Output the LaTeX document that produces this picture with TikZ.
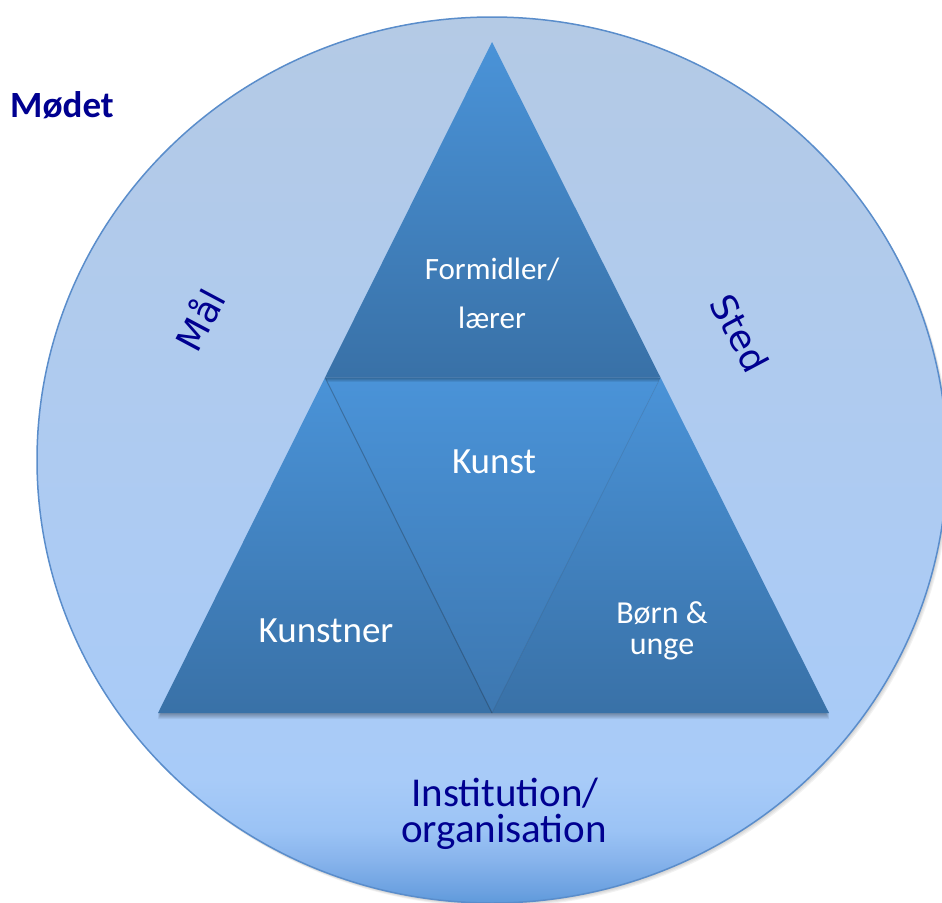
\documentclass[tikz,border=0pt]{standalone}
\usepackage{fontspec}
\newfontfamily\calfont{Carlito}
\newfontfamily\verfont{DejaVu Sans}
\usetikzlibrary{shadows}
\definecolor{ellline}{HTML}{5A8DCB}
\definecolor{ellA}{HTML}{5F9ADB}
\definecolor{ellB}{HTML}{6DA2E1}
\definecolor{ellC}{HTML}{88B4EC}
\definecolor{ellD}{HTML}{9BC3F5}
\definecolor{ellE}{HTML}{A8CBF8}
\definecolor{ellF}{HTML}{AECBF1}
\definecolor{ellG}{HTML}{B4CAE5}
\definecolor{tritop}{HTML}{4A93D8}
\definecolor{tribot}{HTML}{3971A7}
\definecolor{midbot}{HTML}{3D77B0}
\definecolor{navytext}{HTML}{000090}
\pgfdeclareverticalshading{ellshade}{100bp}{color(0bp)=(ellA); color(25bp)=(ellA); color(25.75bp)=(ellB); color(27.45bp)=(ellC); color(29.1bp)=(ellD); color(32bp)=(ellE); color(50bp)=(ellF); color(75bp)=(ellG); color(100bp)=(ellG)}
\tikzset{
  piece/.style={top color=tritop, bottom color=tribot, draw=none},
  softshadow/.style={fill=black, opacity=0.06, draw=none},
  whitetxt/.style={text=white, inner sep=0pt, anchor=base},
  bluetxt/.style={text=navytext, inner sep=0pt},
}
\begin{document}
\begin{tikzpicture}[x=1pt,y=-1pt]
\useasboundingbox (0,0) rectangle (942,902);
% outer ellipse with soft shadow
\foreach \s in {1,2,3,4}{
  \path[fill=black, opacity=0.05] ([shift={(\s*0.8,\s)}]492,460) ellipse [x radius=455, y radius=443];
}
\path[shading=ellshade, draw=ellline, line width=1.5pt]
  (492,460) ellipse [x radius=455, y radius=443];
% triangle corners
\coordinate (apex) at (492,42);
\coordinate (bl) at (158,713);
\coordinate (br) at (829,713);
\coordinate (ml) at (325,377.5);
\coordinate (mr) at (660.5,377.5);
\coordinate (mb) at (492,713);
% soft shadow of the whole triangle
\foreach \s in {1,2,3,4,5,6}{
  \path[softshadow] ([yshift=-\s pt]bl) -- ([yshift=-\s pt]br) -- ([yshift=-\s pt]apex) -- cycle;
}
% pieces
\path[piece, top color=tritop, bottom color=midbot] (ml) -- (mr) -- (mb) -- cycle;
\foreach \s in {1,2,3,4}{
  \path[softshadow, opacity=0.07] ([yshift=-\s pt]ml) -- ([yshift=-\s pt]mr) -- (mr) -- (ml) -- cycle;
}
\path[piece] (apex) -- (mr) -- (ml) -- cycle;
\path[piece] (ml) -- (mb) -- (bl) -- cycle;
\path[piece] (mr) -- (br) -- (mb) -- cycle;
\draw[black, opacity=0.22, line width=1pt] (ml) -- (mb);
\draw[black, opacity=0.08, line width=0.8pt] (mr) -- (mb);
% texts
\node[whitetxt, font=\calfont\fontsize{31}{32}\selectfont] (formidler) at (492,279) {Formidler/};
\node[whitetxt, font=\calfont\fontsize{31}{32}\selectfont] (laerer) at (492,328) {lærer};
\node[whitetxt, font=\calfont\fontsize{37}{40}\selectfont] (kunst) at (494,473) {Kunst};
\node[whitetxt, font=\calfont\fontsize{37}{40}\selectfont] (kunstner) at (326,642) {Kunstner};
\node[whitetxt, font=\calfont\fontsize{32}{34}\selectfont] (born) at (662,623) {Børn \&};
\node[whitetxt, font=\calfont\fontsize{32}{34}\selectfont] (unge) at (662,654) {unge};
\node[bluetxt, anchor=base, font=\calfont\fontsize{41}{42}\selectfont] (inst) at (505,806) {Institution/};
\node[bluetxt, anchor=base, font=\calfont\fontsize{41}{42}\selectfont] (org) at (504,842) {organisation};
\node[bluetxt, anchor=base west, font=\calfont\bfseries\fontsize{37}{38}\selectfont] (modet) at (10,117) {Mødet};
\node[bluetxt, rotate=62, font=\verfont\fontsize{36}{38}\selectfont] (maal) at (199,319) {Mål};
\node[bluetxt, rotate=-62, font=\verfont\fontsize{36}{38}\selectfont] (sted) at (740,333) {Sted};
\end{tikzpicture}
\end{document}
